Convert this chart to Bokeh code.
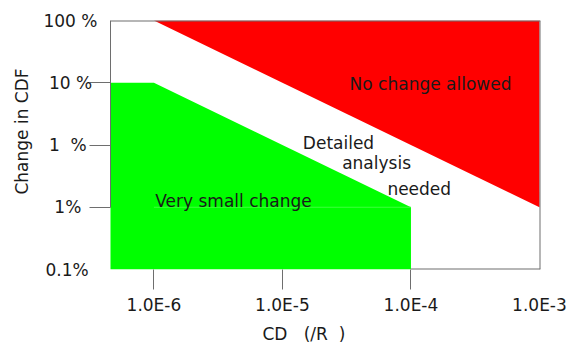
from bokeh.plotting import figure
from bokeh.models import Range1d, FixedTicker, LogAxis
from bokeh.core.properties import value
from bokeh.embed import file_html
from bokeh.resources import INLINE

# ---- data ----
x_ticks = [1e-6, 1e-5, 1e-4, 1e-3]
x_tick_labels = ["1.0E-6", "1.0E-5", "1.0E-4", "1.0E-3"]
x_tick_marks = [1e-6, 1e-5, 1e-4]

y_ticks = [0.1, 1, 10, 100, 1000]
NB = "\u00a0"
y_tick_labels = ["0.1%" + NB + "\u2009", "1%" + NB * 3, "1" + NB * 2 + "%" + NB * 2,
                 "10" + NB + "%" + NB, "100" + NB + "%"]
y_tick_marks = [1, 10, 100]

x_min, x_max = 10 ** -6.338, 10 ** -2.992
y_min, y_max = 0.1, 1000

red_x = [1e-6, 1e-3, 1e-3]
red_y = [1000, 1000, 1]

green_x = [1e-7, 1e-6, 1e-4, 1e-4, 1e-7]
green_y = [100, 100, 1, 0.1, 0.1]

region_labels = ["No change allowed", "Detailed", "analysis", "needed", "Very small change"]
region_x = [1.42e-4, 2.73e-5, 5.4e-5, 1.16e-4, 4.16e-6]
region_y = [93.8, 10.6, 5.05, 2.0, 1.28]

x_title = "CD" + NB * 3 + "(/R" + NB * 2 + ")" + NB * 8
y_title = NB * 5 + "Change in CDF"

FONT = "DejaVu Sans"
FS = "17px"
TXT = "#1a1a1a"
LINE = "#6e6e6e"

p = figure(width=568, height=347, x_axis_type="log", y_axis_type="log",
           x_range=Range1d(x_min, x_max), y_range=Range1d(y_min, y_max),
           output_backend="svg", toolbar_location=None,
           min_border_left=110, min_border_right=28, min_border_top=20, min_border_bottom=78)
p.outline_line_color = None
p.xgrid.visible = False
p.ygrid.visible = False
p.background_fill_color = "white"
p.border_fill_color = "white"

# bottom frame line (under the green area)
p.segment(x0=[1e-4], y0=[y_min], x1=[x_max], y1=[y_min], line_color=LINE, line_width=2)

p.patch(red_x, red_y, fill_color="#ff0000", line_color=None)
p.patch(green_x, green_y, fill_color="#00ff00", line_color=None)
p.segment(x0=[1e-6], y0=[1], x1=[1e-4], y1=[1], line_color="#3cff3c", line_width=1)
# top and right frame lines over the red area
p.segment(x0=[x_min, x_max], y0=[y_max, y_min], x1=[x_max, x_max], y1=[y_max, y_max],
          line_color=LINE, line_width=2)

p.text(x=region_x, y=region_y, text=region_labels, text_font=value(FONT),
       text_font_size=FS, text_color=TXT, text_align="center", text_baseline="alphabetic")


def style_hidden_labels(ax):
    ax.major_label_text_font_size = "1px"
    ax.major_label_text_color = None
    ax.major_label_standoff = 0


# x axis 1: tick marks only
xa = p.xaxis[0]
xa.ticker = FixedTicker(ticks=x_tick_marks, minor_ticks=[])
xa.axis_line_color = None
xa.major_tick_line_color = LINE
xa.major_tick_out = 20
xa.major_tick_in = 0
style_hidden_labels(xa)

# x axis 2: tick labels and title
xa2 = LogAxis(ticker=FixedTicker(ticks=x_ticks, minor_ticks=[]),
              major_label_overrides=dict(zip(x_ticks, x_tick_labels)),
              axis_line_color=None, major_tick_line_color=None, minor_tick_line_color=None,
              major_tick_out=0, major_tick_in=0, major_label_standoff=5,
              major_label_text_font=FONT, major_label_text_font_size=FS,
              major_label_text_color=TXT,
              axis_label=x_title, axis_label_text_font=FONT, axis_label_text_font_size=FS,
              axis_label_text_font_style="normal", axis_label_text_color=TXT,
              axis_label_standoff=6)
p.add_layout(xa2, "below")

# y axis 1: tick marks and axis line
ya = p.yaxis[0]
ya.ticker = FixedTicker(ticks=y_tick_marks, minor_ticks=[])
ya.bounds = (1, 1000)
ya.axis_line_color = LINE
ya.major_tick_line_color = LINE
ya.major_tick_out = 21
ya.major_tick_in = 0
style_hidden_labels(ya)

# y axis 2: tick labels and title
ya2 = LogAxis(ticker=FixedTicker(ticks=y_ticks, minor_ticks=[]),
              major_label_overrides=dict(zip(y_ticks, y_tick_labels)),
              axis_line_color=None, major_tick_line_color=None, minor_tick_line_color=None,
              major_tick_out=0, major_tick_in=0, major_label_standoff=-8,
              major_label_text_font=FONT, major_label_text_font_size=FS,
              major_label_text_color=TXT,
              axis_label=y_title, axis_label_text_font=FONT, axis_label_text_font_size=FS,
              axis_label_text_font_style="normal", axis_label_text_color=TXT,
              axis_label_standoff=8)
p.add_layout(ya2, "left")

open("out.html", "w").write(file_html(p, INLINE))
